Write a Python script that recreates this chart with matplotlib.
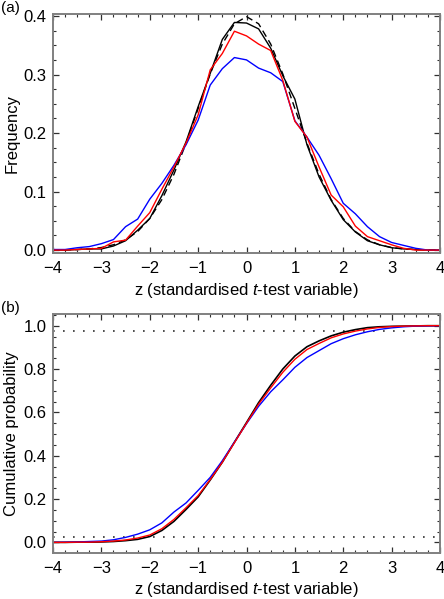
#!/usr/bin/env python3
"""Two-panel figure: frequency and cumulative probability of the standardised t-test variable."""

import matplotlib
matplotlib.use("Agg")
import matplotlib.pyplot as plt
from matplotlib.ticker import MultipleLocator, FormatStrFormatter

plt.rcParams["font.family"] = ["Liberation Sans", "DejaVu Sans"]
plt.rcParams["mathtext.fontset"] = "custom"
plt.rcParams["mathtext.rm"] = "Liberation Sans"
plt.rcParams["mathtext.it"] = "Liberation Sans:italic"

# z grid (bin centres)
z = [-4.0, -3.75, -3.5, -3.25, -3.0, -2.75, -2.5, -2.25, -2.0, -1.75, -1.5,
     -1.25, -1.0, -0.75, -0.5, -0.25, 0.0, 0.25, 0.5, 0.75, 1.0, 1.25, 1.5,
     1.75, 2.0, 2.25, 2.5, 2.75, 3.0, 3.25, 3.5, 3.75, 4.0]

# panel (a): frequency
freq_black = [0.0, 0.0, 0.001, 0.002, 0.002, 0.007, 0.016, 0.034, 0.054, 0.093, 0.137,
              0.185, 0.245, 0.302, 0.360, 0.389, 0.388, 0.378, 0.345, 0.298, 0.258, 0.180,
              0.125, 0.085, 0.052, 0.031, 0.016, 0.009, 0.004, 0.002, 0.001, 0.0, 0.0]
freq_red = [0.0, 0.0, 0.001, 0.002, 0.003, 0.014, 0.017, 0.041, 0.064, 0.104, 0.142,
            0.183, 0.231, 0.308, 0.336, 0.374, 0.366, 0.352, 0.341, 0.290, 0.220, 0.193,
            0.142, 0.094, 0.074, 0.041, 0.023, 0.016, 0.009, 0.003, 0.0, 0.0, 0.0]
freq_blue = [0.001, 0.001, 0.004, 0.006, 0.011, 0.018, 0.040, 0.053, 0.087, 0.114, 0.145,
             0.180, 0.222, 0.282, 0.310, 0.329, 0.325, 0.311, 0.303, 0.288, 0.221, 0.193,
             0.162, 0.122, 0.080, 0.062, 0.040, 0.023, 0.013, 0.008, 0.003, 0.0, 0.0]
freq_normal = [0.0001, 0.0004, 0.0009, 0.002, 0.0044, 0.0091, 0.0175, 0.0317, 0.054, 0.0863,
               0.1295, 0.1826, 0.242, 0.3011, 0.3521, 0.3867, 0.3989, 0.3867, 0.3521, 0.3011,
               0.242, 0.1826, 0.1295, 0.0863, 0.054, 0.0317, 0.0175, 0.0091, 0.0044, 0.002,
               0.0009, 0.0004, 0.0001]

# panel (b): cumulative probability
cum_black = [0.0, 0.0, 0.001, 0.001, 0.002, 0.004, 0.008, 0.014, 0.027, 0.055, 0.097,
             0.152, 0.210, 0.288, 0.370, 0.462, 0.553, 0.645, 0.725, 0.800, 0.860, 0.903,
             0.930, 0.953, 0.970, 0.982, 0.991, 0.995, 0.997, 0.998, 0.999, 1.0, 1.0]
cum_red = [0.0, 0.0, 0.001, 0.001, 0.003, 0.006, 0.011, 0.020, 0.034, 0.063, 0.106,
           0.160, 0.216, 0.290, 0.370, 0.460, 0.550, 0.638, 0.713, 0.785, 0.845, 0.890,
           0.918, 0.944, 0.962, 0.975, 0.985, 0.992, 0.996, 0.998, 0.999, 1.0, 1.0]
cum_blue = [0.0, 0.001, 0.002, 0.004, 0.006, 0.012, 0.023, 0.038, 0.058, 0.090, 0.140,
            0.182, 0.240, 0.300, 0.377, 0.463, 0.548, 0.628, 0.695, 0.750, 0.808, 0.853,
            0.885, 0.917, 0.940, 0.958, 0.972, 0.983, 0.990, 0.995, 0.998, 0.999, 1.0]
conf_levels = [0.025, 0.975]

XLABEL = r"z (standardised $\mathit{t}$-test variable)"
FRAME = "#808080"
FS = 12


def style_axes(ax, ymajor, yminor):
    ax.set_xlim(-4, 4)
    ax.xaxis.set_major_locator(MultipleLocator(1))
    ax.xaxis.set_minor_locator(MultipleLocator(0.25))
    ax.yaxis.set_major_locator(MultipleLocator(ymajor))
    ax.yaxis.set_minor_locator(MultipleLocator(yminor))
    ax.yaxis.set_major_formatter(FormatStrFormatter("%.1f"))
    ax.tick_params(which="both", direction="in", top=True, right=True,
                   color="#303030", labelsize=FS)
    ax.tick_params(which="major", length=4.5, width=0.9)
    ax.tick_params(which="minor", length=2.2, width=0.8)
    ax.tick_params(axis="x", which="major", pad=6)
    ax.tick_params(axis="y", which="major", pad=4.5)
    for sp in ax.spines.values():
        sp.set_color(FRAME)
        sp.set_linewidth(1.4)
    ax.set_xlabel(XLABEL, fontsize=FS, labelpad=3)


fig = plt.figure(figsize=(4.44, 5.99), dpi=100)
ax_a = fig.add_axes([0.1194, 0.5776, 0.8716, 0.399])
ax_b = fig.add_axes([0.1194, 0.0768, 0.8716, 0.399])

# (a)
ax_a.plot(z, freq_normal, color="black", lw=1.0, ls=(0, (5, 3)))
ax_a.plot(z, freq_black, color="black", lw=1.0)
ax_a.plot(z, freq_blue, color="#0000ff", lw=1.0)
ax_a.plot(z, freq_red, color="#ff0000", lw=1.0)
ax_a.set_ylim(-0.005, 0.4034)
style_axes(ax_a, 0.1, 0.025)
ax_a.set_ylabel("Frequency", fontsize=FS, labelpad=3)

# (b)
for lvl in conf_levels:
    ax_b.axhline(lvl, color="#303030", lw=1.2, ls=(0, (1, 5)))
ax_b.plot(z, cum_black, color="black", lw=1.2)
ax_b.plot(z, cum_blue, color="#0000ff", lw=1.0)
ax_b.plot(z, cum_red, color="#ff0000", lw=1.0)
ax_b.set_ylim(-0.049, 1.054)
style_axes(ax_b, 0.2, 0.05)
ax_b.set_ylabel("Cumulative probability", fontsize=FS, labelpad=3)

fig.text(0.002, 0.987, "(a)", fontsize=11, va="center", ha="left")
fig.text(0.002, 0.486, "(b)", fontsize=11, va="center", ha="left")

fig.savefig("out.png", dpi=100, facecolor="white")
plt.close(fig)
